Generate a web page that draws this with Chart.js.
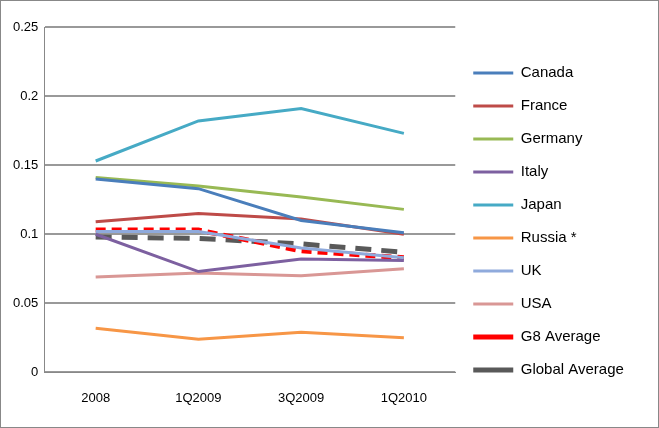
<!DOCTYPE html>
<html>
<head>
<meta charset="utf-8">
<script src="https://cdn.jsdelivr.net/npm/chart.js@4"></script>
<style>
  html, body { margin: 0; padding: 0; background: #fff; }
  #wrap { position: absolute; left: 0; top: 0; width: 657px; height: 426px; border: 1px solid #888; }
</style>
</head>
<body>
<div id="wrap"><canvas id="c"></canvas></div>
<script>
"use strict";

const categories = ['2008', '1Q2009', '3Q2009', '1Q2010'];
const canada = [0.140, 0.133, 0.110, 0.101];
const france = [0.109, 0.115, 0.111, 0.100];
const germany = [0.141, 0.135, 0.127, 0.118];
const italy = [0.100, 0.073, 0.082, 0.081];
const japan = [0.153, 0.182, 0.191, 0.173];
const russia = [0.032, 0.024, 0.029, 0.025];
const uk = [0.102, 0.102, 0.090, 0.083];
const usa = [0.069, 0.072, 0.070, 0.075];
const g8Average = [0.103, 0.103, 0.088, 0.083];
const globalAverage = [0.098, 0.097, 0.093, 0.087];

function line(label, data, color, extra) {
    return Object.assign({
        label: label,
        data: data,
        borderColor: color,
        backgroundColor: color,
        borderWidth: 3,
        pointRadius: 0,
        tension: 0,
        fill: false
    }, extra || {});
}

// Расширение легенды, чтобы между графиком и легендой был отступ
const legendGap = {
    id: 'legendGap',
    beforeInit(chart) {
        const origFit = chart.legend.fit;
        chart.legend.fit = function() {
            origFit.call(this);
            this.width += 34;
        };
    }
};

const canvas = document.getElementById('c');
canvas.width = 657;
canvas.height = 426;

new Chart(canvas.getContext('2d'), {
    type: 'line',
    data: {
        labels: categories,
        datasets: [
            line('Canada', canada, '#4a7ebb'),
            line('France', france, '#be4b48'),
            line('Germany', germany, '#98b954'),
            line('Italy', italy, '#7d60a0'),
            line('Japan', japan, '#46aac5'),
            line('Russia *', russia, '#f79646'),
            line('UK', uk, '#8faadc'),
            line('USA', usa, '#d99795'),
            line('G8 Average', g8Average, '#ff0000', { borderWidth: 5, borderDash: [10, 6] }),
            line('Global Average', globalAverage, '#595959', { borderWidth: 5, borderDash: [16, 10] })
        ]
    },
    options: {
        responsive: false,
        animation: false,
        layout: { padding: { left: 6, top: 26, right: 8, bottom: 11 } },
        scales: {
            x: {
                offset: true,
                grid: { display: false },
                border: { color: '#888', width: 1 },
                ticks: { color: '#000', padding: 10, font: { family: 'Liberation Sans', size: 13 } }
            },
            y: {
                min: 0,
                max: 0.25,
                ticks: {
                    stepSize: 0.05,
                    color: '#000',
                    padding: 6,
                    font: { family: 'Liberation Sans', size: 13 },
                    callback: v => String(Math.round(v * 100) / 100)
                },
                grid: { color: '#999', lineWidth: 2, drawTicks: false },
                border: { color: '#888', width: 1 }
            }
        },
        plugins: {
            legend: {
                position: 'right',
                align: 'center',
                labels: {
                    usePointStyle: true,
                    pointStyle: 'line',
                    pointStyleWidth: 40,
                    boxWidth: 40,
                    padding: 18,
                    color: '#000',
                    font: { family: 'Liberation Sans', size: 15 }
                }
            },
            tooltip: { enabled: false }
        }
    },
    plugins: [legendGap]
});
</script>
</body>
</html>
